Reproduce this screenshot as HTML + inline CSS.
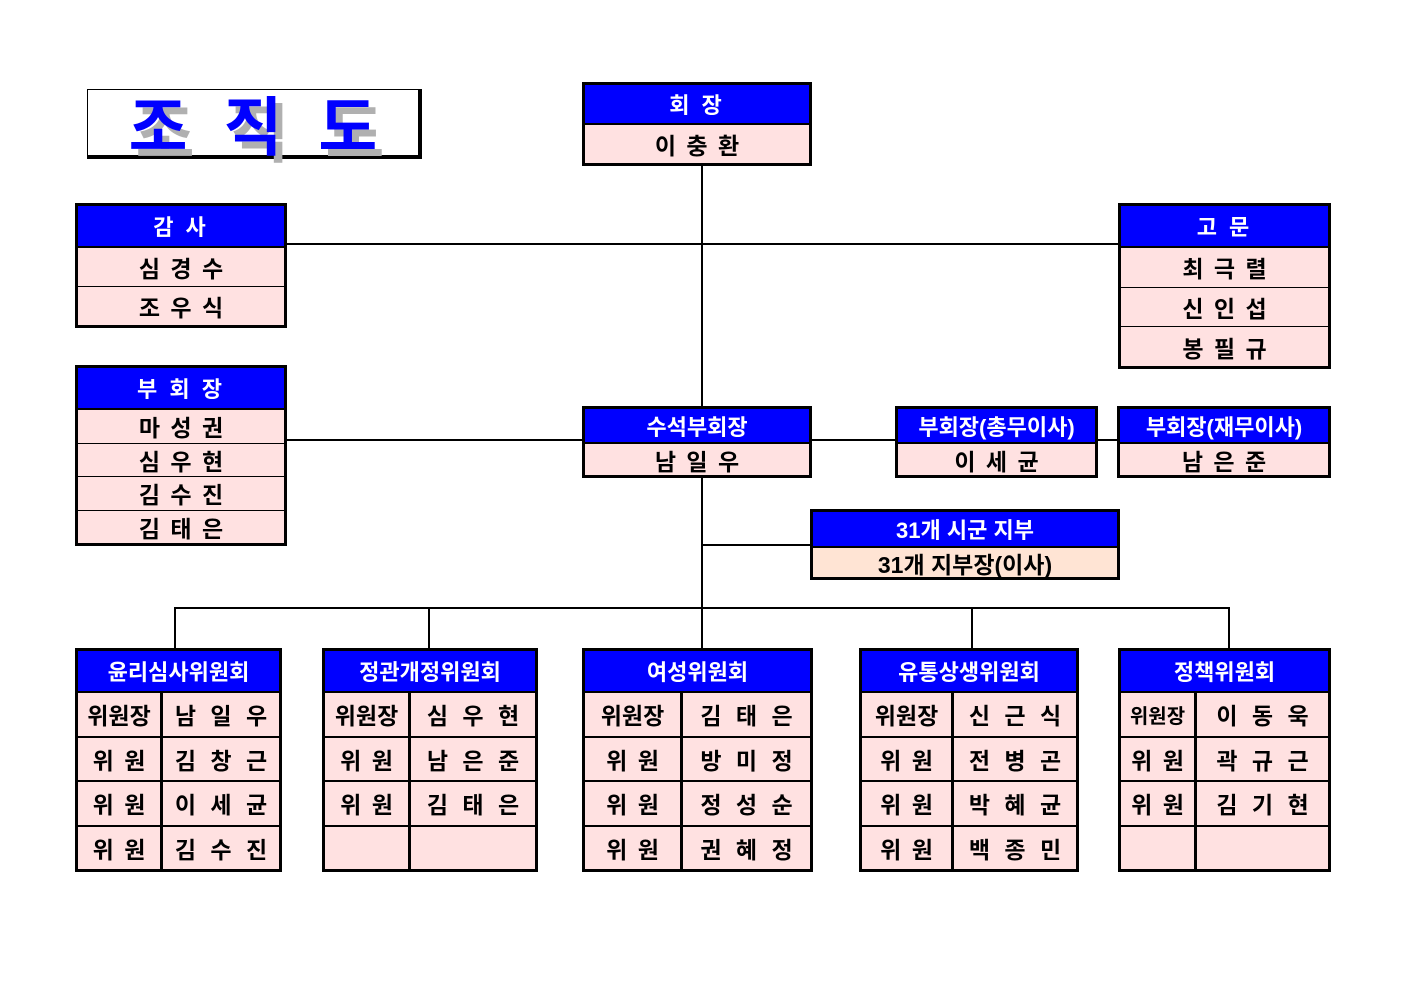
<!DOCTYPE html>
<html><head><meta charset="utf-8"><style>
body{margin:0;background:#fff;width:1403px;height:992px;position:relative;overflow:hidden;font-family:"Liberation Sans","Noto Sans CJK KR","NanumGothic",sans-serif;font-weight:bold;}
.b{position:absolute;border:3px solid #000;box-sizing:border-box;display:flex;flex-direction:column;background:#ffe1e1;overflow:hidden;}
.h{background:#0000ff;color:#fff;display:flex;align-items:center;justify-content:center;font-size:22px;border-bottom:2px solid #000;flex:none;white-space:nowrap;box-sizing:border-box;}
.r{flex:1 1 0;min-height:0;display:flex;align-items:center;justify-content:center;font-size:23px;color:#000;border-top:1px solid #000;white-space:nowrap;letter-spacing:2px;padding-left:2px;}
.h+.r{border-top:none;}
.c{display:flex;flex:1 1 0;min-height:0;border-top:2px solid #000;}
.h+.c{border-top:none;}
.c div{display:flex;align-items:center;justify-content:center;font-size:23px;white-space:nowrap;}
.c div:first-child{border-right:3px solid #000;flex:none;letter-spacing:2px;padding-left:2px;box-sizing:border-box;}
.c div:last-child{flex:1;letter-spacing:4px;padding-left:4px;}
.l{position:absolute;background:#000;}
</style></head><body>
<div class="l" style="left:701px;top:165px;width:2px;height:484px"></div>
<div class="l" style="left:287px;top:243px;width:832px;height:2px"></div>
<div class="l" style="left:286px;top:439px;width:832px;height:2px"></div>
<div class="l" style="left:702px;top:544px;width:110px;height:2px"></div>
<div class="l" style="left:174px;top:607px;width:1056px;height:2px"></div>
<div class="l" style="left:174px;top:607px;width:2px;height:42px"></div>
<div class="l" style="left:428px;top:607px;width:2px;height:42px"></div>
<div class="l" style="left:971px;top:607px;width:2px;height:42px"></div>
<div class="l" style="left:1228px;top:607px;width:2px;height:42px"></div>

<div style="position:absolute;left:87px;top:89px;width:335px;height:70px;box-sizing:border-box;border:1px solid #000;border-right:4px solid #000;border-bottom:4px solid #000;background:#fff;display:flex;align-items:center;justify-content:center;font-size:64px;color:#0000ff;letter-spacing:36px;padding-left:36px;text-shadow:7px 7px 0 #b0b0b0;">조직도</div>

<div class="b" style="left:582px;top:82px;width:230px;height:84px"><div class="h" style="height:40px;letter-spacing:3px">회 장</div><div class="r">이 충 환</div></div>

<div class="b" style="left:75px;top:203px;width:212px;height:125px"><div class="h" style="height:42px;letter-spacing:3px">감 사</div><div class="r">심 경 수</div><div class="r">조 우 식</div></div>

<div class="b" style="left:1118px;top:203px;width:213px;height:166px"><div class="h" style="height:42px;letter-spacing:3px">고 문</div><div class="r">최 극 렬</div><div class="r">신 인 섭</div><div class="r">봉 필 규</div></div>

<div class="b" style="left:75px;top:365px;width:212px;height:181px"><div class="h" style="height:42px;letter-spacing:3px">부 회 장</div><div class="r">마 성 권</div><div class="r">심 우 현</div><div class="r">김 수 진</div><div class="r">김 태 은</div></div>

<div class="b" style="left:582px;top:406px;width:230px;height:72px"><div class="h" style="height:35px">수석부회장</div><div class="r">남 일 우</div></div>
<div class="b" style="left:895px;top:406px;width:203px;height:72px"><div class="h" style="height:35px">부회장(총무이사)</div><div class="r">이 세 균</div></div>
<div class="b" style="left:1117px;top:406px;width:214px;height:72px"><div class="h" style="height:35px">부회장(재무이사)</div><div class="r">남 은 준</div></div>

<div class="b" style="left:810px;top:509px;width:310px;height:71px;background:#ffe4d4"><div class="h" style="height:36px">31개 시군 지부</div><div class="r" style="letter-spacing:0;padding-left:0">31개 지부장(이사)</div></div>

<div class="b" style="left:75px;top:648px;width:207px;height:224px"><div class="h" style="height:42px">윤리심사위원회</div>
<div class="c"><div style="width:85px;letter-spacing:0;padding-left:0">위원장</div><div>남 일 우</div></div>
<div class="c"><div style="width:85px">위 원</div><div>김 창 근</div></div>
<div class="c"><div style="width:85px">위 원</div><div>이 세 균</div></div>
<div class="c"><div style="width:85px">위 원</div><div>김 수 진</div></div></div>

<div class="b" style="left:322px;top:648px;width:216px;height:224px"><div class="h" style="height:42px">정관개정위원회</div>
<div class="c"><div style="width:86px;letter-spacing:0;padding-left:0">위원장</div><div>심 우 현</div></div>
<div class="c"><div style="width:86px">위 원</div><div>남 은 준</div></div>
<div class="c"><div style="width:86px">위 원</div><div>김 태 은</div></div>
<div class="c"><div style="width:86px"></div><div></div></div></div>

<div class="b" style="left:582px;top:648px;width:231px;height:224px"><div class="h" style="height:42px">여성위원회</div>
<div class="c"><div style="width:98px;letter-spacing:0;padding-left:0">위원장</div><div>김 태 은</div></div>
<div class="c"><div style="width:98px">위 원</div><div>방 미 정</div></div>
<div class="c"><div style="width:98px">위 원</div><div>정 성 순</div></div>
<div class="c"><div style="width:98px">위 원</div><div>권 혜 정</div></div></div>

<div class="b" style="left:859px;top:648px;width:220px;height:224px"><div class="h" style="height:42px">유통상생위원회</div>
<div class="c"><div style="width:92px;letter-spacing:0;padding-left:0">위원장</div><div>신 근 식</div></div>
<div class="c"><div style="width:92px">위 원</div><div>전 병 곤</div></div>
<div class="c"><div style="width:92px">위 원</div><div>박 혜 균</div></div>
<div class="c"><div style="width:92px">위 원</div><div>백 종 민</div></div></div>

<div class="b" style="left:1118px;top:648px;width:213px;height:224px"><div class="h" style="height:42px">정책위원회</div>
<div class="c"><div style="width:76px;font-size:20px;letter-spacing:0;padding-left:0">위원장</div><div>이 동 욱</div></div>
<div class="c"><div style="width:76px">위 원</div><div>곽 규 근</div></div>
<div class="c"><div style="width:76px">위 원</div><div>김 기 현</div></div>
<div class="c"><div style="width:76px"></div><div></div></div></div>
</body></html>
